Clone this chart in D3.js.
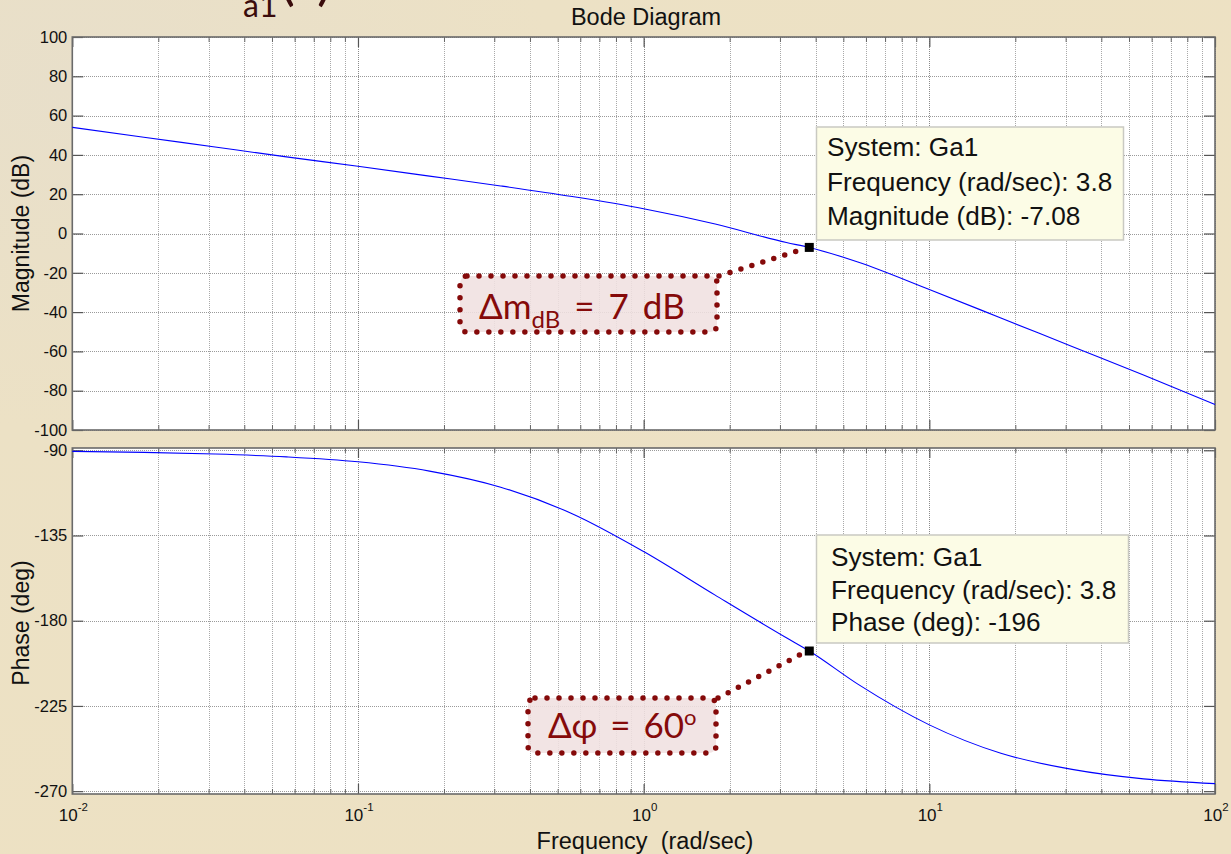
<!DOCTYPE html>
<html>
<head>
<meta charset="utf-8">
<script src="https://cdn.jsdelivr.net/npm/d3@7"></script>
<style>
  html, body { margin: 0; padding: 0; background: #ece1c5; }
  svg { display: block; }
</style>
</head>
<body>
<svg id="chart" width="1231" height="854"></svg>
<script>
// ---------------- data ----------------
const freq = [0.01, 0.0178, 0.0316, 0.0562, 0.1, 0.178, 0.316, 0.562, 1, 1.78, 3.16, 3.8, 5.62, 10, 17.8, 31.6, 56.2, 100];
const magnitudeDb = [54, 49, 44, 39, 34.2, 29.2, 24.2, 18.8, 12.6, 4.8, -4.6, -7.08, -14.5, -28.5, -43, -57.5, -72, -87];
const phaseDeg = [-90.6, -91.1, -92.0, -93.5, -96.1, -101, -109.5, -123.5, -143.5, -166.5, -189, -196, -213.5, -235, -250, -258.5, -263.5, -266];
const magTicks = [-100, -80, -60, -40, -20, 0, 20, 40, 60, 80, 100];
const phaseTicks = [-270, -225, -180, -135, -90];
const decadeExponents = [-2, -1, 0, 1, 2];
const markerFreq = 3.8, markerMag = -7.08, markerPhase = -196;
const magTipLines = ["System: Ga1", "Frequency (rad/sec): 3.8", "Magnitude (dB): -7.08"];
const phaseTipLines = ["System: Ga1", "Frequency (rad/sec): 3.8", "Phase (deg): -196"];
const titleText = "Bode Diagram";
const xLabelText = "Frequency  (rad/sec)";
const magLabelText = "Magnitude (dB)";
const phaseLabelText = "Phase (deg)";

// ---------------- layout ----------------
const svg = d3.select("#chart");
const L = 72.3, R = 1215;
const magTop = 37, magBot = 430, phTop = 448, phBot = 794;
const FONT = "'Liberation Sans', Arial, Helvetica, sans-serif";

const x = d3.scaleLog().domain([0.01, 100]).range([L, R]);
const yMag = d3.scaleLinear().domain([-100, 100]).range([magBot, magTop]);
const yPh = d3.scaleLinear().domain([-271.5, -88.8]).range([phBot, phTop]);

// background
const defs = svg.append("defs");
const rg = defs.append("radialGradient").attr("id", "bg").attr("cx", "0.05").attr("cy", "0.1").attr("r", "1");
rg.append("stop").attr("offset", "0").attr("stop-color", "#e8dfca");
rg.append("stop").attr("offset", "0.4").attr("stop-color", "#ece1c5");
rg.append("stop").attr("offset", "1").attr("stop-color", "#ede1c3");
svg.append("rect").attr("width", 1231).attr("height", 854).attr("fill", "url(#bg)");

// fragment of the slide title, cut by the top edge (as in the reference)
const frag = svg.append("g").attr("fill", "#3a0c0c").attr("font-family", "Lato, 'Open Sans', sans-serif");
frag.append("text").attr("x", 241).attr("y", -1).attr("text-anchor", "end").attr("font-size", 50).text("G");
frag.append("text").attr("x", 243).attr("y", 17).attr("font-size", 32).text("a1");
frag.append("text").attr("x", 280).attr("y", -1).attr("font-size", 56).text("(s)");

// grid values
const minorVals = [];
[-2, -1, 0, 1].forEach(e => { for (let k = 2; k <= 9; k++) minorVals.push(k * Math.pow(10, e)); });
const decadeVals = decadeExponents.map(e => Math.pow(10, e));

function panel(top, bot, yScale, yTicks, showXLabels) {
  const g = svg.append("g");
  g.append("rect").attr("x", L).attr("y", top).attr("width", R - L).attr("height", bot - top).attr("fill", "#ffffff");
  [[minorVals, "#a9a9a9"], [decadeVals, "#8a8a8a"]].forEach(([vals, col]) => {
    const vg = g.append("g").attr("transform", `translate(0,${bot})`)
      .call(d3.axisBottom(x).tickValues(vals).tickSize(-(bot - top)).tickFormat(""));
    vg.select(".domain").remove();
    vg.selectAll("line").attr("stroke", col).attr("stroke-width", 1).attr("stroke-dasharray", "1,1").attr("shape-rendering", "crispEdges");
  });
  const hg = g.append("g").attr("transform", `translate(${L},0)`)
    .call(d3.axisLeft(yScale).tickValues(yTicks).tickSize(-(R - L)).tickFormat(""));
  hg.select(".domain").remove();
  hg.selectAll("line").attr("stroke", "#9a9a9a").attr("stroke-width", 1).attr("stroke-dasharray", "1,1").attr("shape-rendering", "crispEdges");
  const ya = g.append("g").attr("transform", `translate(${L},0)`)
    .call(d3.axisLeft(yScale).tickValues(yTicks).tickSize(-11).tickPadding(5).tickFormat(d => String(d)));
  ya.select(".domain").remove();
  ya.selectAll("line").attr("stroke", "#555").attr("stroke-width", 1.2);
  ya.selectAll("text").attr("font-family", FONT).attr("font-size", 16.5).attr("fill", "#111");
  const yr = g.append("g").attr("transform", `translate(${R},0)`)
    .call(d3.axisRight(yScale).tickValues(yTicks).tickSize(-11).tickFormat(""));
  yr.select(".domain").remove();
  yr.selectAll("line").attr("stroke", "#555").attr("stroke-width", 1.2);
  [[bot, d3.axisBottom], [top, d3.axisTop]].forEach(([yy, ax]) => {
    const a1 = g.append("g").attr("transform", `translate(0,${yy})`).call(ax(x).tickValues(decadeVals).tickSize(-10).tickFormat(""));
    a1.select(".domain").remove();
    a1.selectAll("line").attr("stroke", "#555").attr("stroke-width", 1.2);
    const a2 = g.append("g").attr("transform", `translate(0,${yy})`).call(ax(x).tickValues(minorVals).tickSize(-5).tickFormat(""));
    a2.select(".domain").remove();
    a2.selectAll("line").attr("stroke", "#666").attr("stroke-width", 1);
  });
  g.append("rect").attr("x", L).attr("y", top).attr("width", R - L).attr("height", bot - top)
    .attr("fill", "none").attr("stroke", "#6a6a6a").attr("stroke-width", 1.6);
  if (showXLabels) {
    const lab = g.append("g").attr("font-family", FONT).attr("fill", "#111");
    decadeExponents.forEach(e => {
      const t = lab.append("text").attr("x", x(Math.pow(10, e)) + 1).attr("y", bot + 27).attr("text-anchor", "middle").attr("font-size", 17);
      t.append("tspan").text("10");
      t.append("tspan").attr("font-size", 11.5).attr("dy", -10).text(String(e));
    });
  }
  return g;
}

panel(magTop, magBot, yMag, magTicks, false);
panel(phTop, phBot, yPh, phaseTicks, true);

// curves
const magLine = d3.line().x((d, i) => x(freq[i])).y(d => yMag(d)).curve(d3.curveMonotoneX);
const phLine = d3.line().x((d, i) => x(freq[i])).y(d => yPh(d)).curve(d3.curveMonotoneX);
svg.append("path").attr("d", magLine(magnitudeDb)).attr("fill", "none").attr("stroke", "#0000ff").attr("stroke-width", 1.1);
svg.append("path").attr("d", phLine(phaseDeg)).attr("fill", "none").attr("stroke", "#0000ff").attr("stroke-width", 1.1);

// titles and labels
svg.append("text").attr("x", 646).attr("y", 25).attr("text-anchor", "middle").attr("font-family", FONT).attr("font-size", 23.5).attr("fill", "#111").text(titleText);
svg.append("text").attr("x", 645).attr("y", 849).attr("text-anchor", "middle").attr("font-family", FONT).attr("font-size", 23.5).attr("fill", "#111").attr("xml:space", "preserve").style("white-space", "pre").text(xLabelText);
svg.append("text").attr("transform", `translate(29,${(magTop + magBot) / 2}) rotate(-90)`).attr("text-anchor", "middle").attr("font-family", FONT).attr("font-size", 23).attr("fill", "#111").text(magLabelText);
svg.append("text").attr("transform", `translate(29,${(phTop + phBot) / 2 + 2}) rotate(-90)`).attr("text-anchor", "middle").attr("font-family", FONT).attr("font-size", 23).attr("fill", "#111").text(phaseLabelText);

// annotation boxes with dotted borders and connectors
const RED = "#850a0a";
const AFONT = "Lato, 'Open Sans', sans-serif";
function annot(bx, by, bw, bh, mx, my, build) {
  const g = svg.append("g");
  g.append("line").attr("x1", bx + bw + 2).attr("y1", by).attr("x2", mx - 4).attr("y2", my + 1)
    .attr("stroke", RED).attr("stroke-width", 5.5).attr("stroke-linecap", "round").attr("stroke-dasharray", "0 11.5");
  g.append("rect").attr("x", bx).attr("y", by).attr("width", bw).attr("height", bh).attr("rx", 7)
    .attr("fill", "rgba(240,224,224,0.88)").attr("stroke", RED).attr("stroke-width", 5.5)
    .attr("stroke-linecap", "round").attr("stroke-dasharray", "0 12");
  build(g);
}
annot(460, 276, 257, 56, x(markerFreq), yMag(markerMag), g => {
  const t = g.append("text").attr("x", 479).attr("y", 319).attr("font-family", AFONT).attr("font-size", 35).attr("fill", RED)
    .attr("xml:space", "preserve").style("white-space", "pre").attr("word-spacing", 5);
  t.append("tspan").text("\u0394m");
  t.append("tspan").attr("font-size", 24).attr("dy", 9).text("dB");
  t.append("tspan").attr("dy", -9).text(" = 7 dB");
});
annot(528, 698, 188, 55, x(markerFreq), yPh(markerPhase), g => {
  const t = g.append("text").attr("x", 548).attr("y", 738).attr("font-family", AFONT).attr("font-size", 35).attr("fill", RED)
    .attr("xml:space", "preserve").style("white-space", "pre").attr("word-spacing", 4);
  t.append("tspan").text("\u0394\u03C6 = 60");
  t.append("tspan").attr("font-size", 22).attr("dy", -13).text("o");
});

// markers
[yMag(markerMag), yPh(markerPhase)].forEach(yy => {
  svg.append("rect").attr("x", x(markerFreq) - 4.5).attr("y", yy - 4.5).attr("width", 9).attr("height", 9).attr("fill", "#000");
});

// data tips
function tip(bx, by, bw, bh, tx, baselines, lines) {
  const g = svg.append("g");
  g.append("rect").attr("x", bx).attr("y", by).attr("width", bw).attr("height", bh).attr("fill", "#fcfce6").attr("stroke", "#c9c9c2").attr("stroke-width", 1.5);
  lines.forEach((s, i) => {
    g.append("text").attr("x", tx).attr("y", baselines[i]).attr("font-family", FONT).attr("font-size", 26.2).attr("fill", "#111").text(s);
  });
}
tip(816.5, 127, 307, 113, 827, [156, 191, 225], magTipLines);
tip(816.5, 535, 312, 108, 831, [566, 599, 631], phaseTipLines);
</script>
</body>
</html>
